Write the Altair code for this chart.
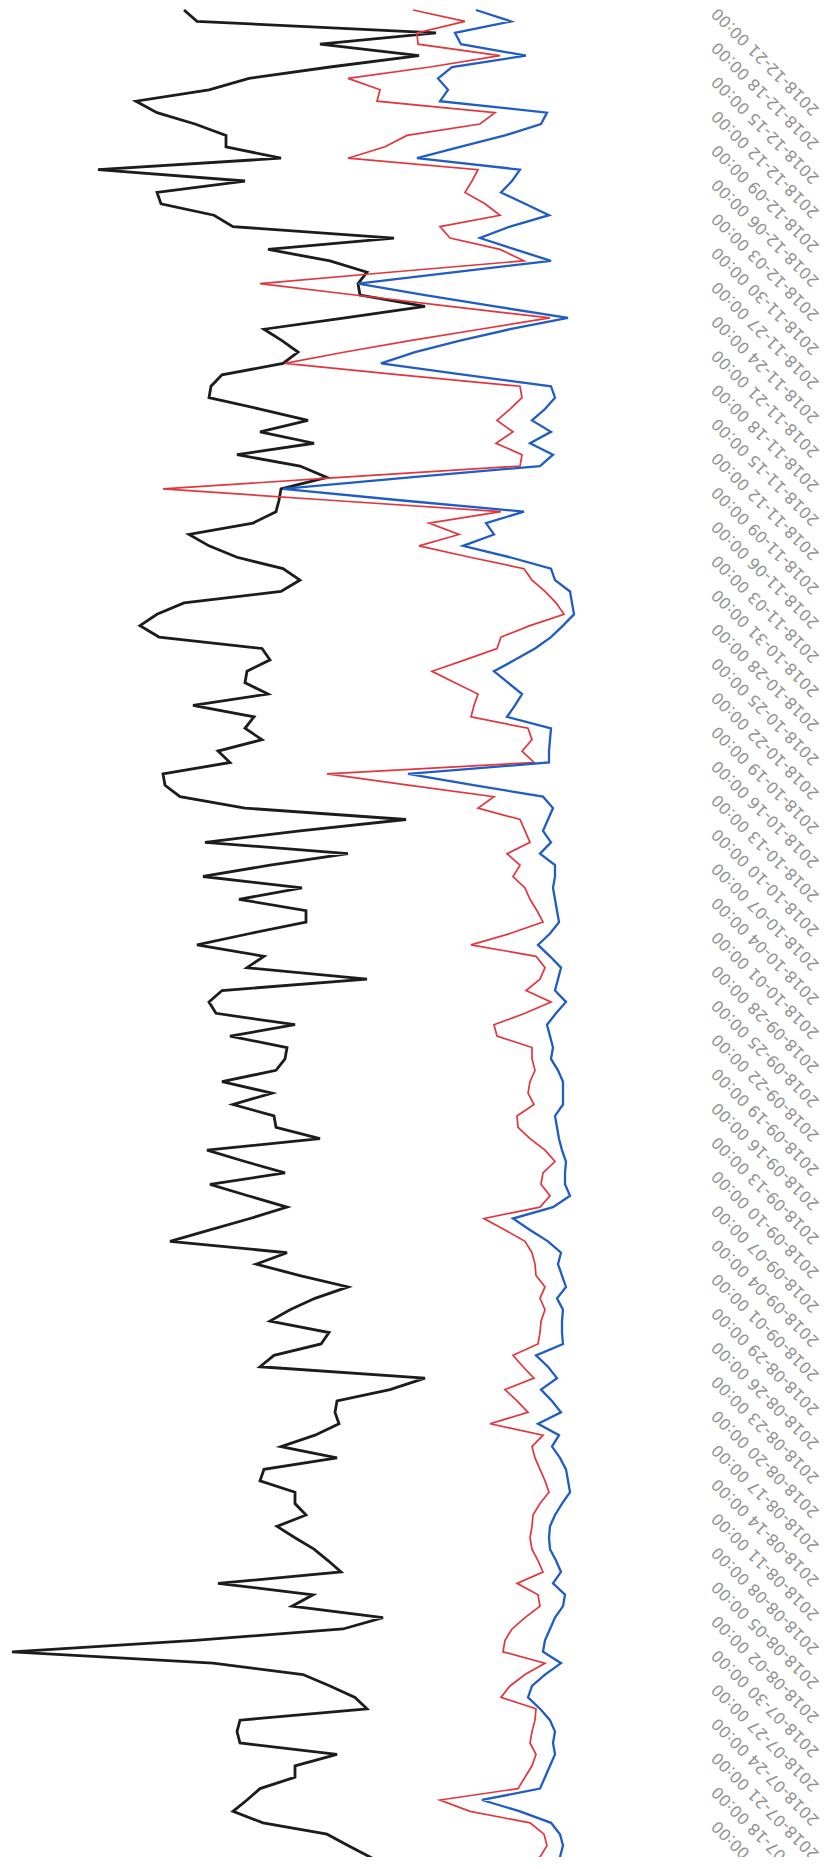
import altair as alt
import pandas as pd

# Daily values, newest first (2018-12-21 back to 2018-07-11)
black = [429, 416, 177, 293, 194, 283, 364, 404, 477, 456, 418, 387, 387, 332, 515, 368, 456, 452, 399, 380,
         219, 345, 283, 246, 255, 253, 188, 268, 349, 331, 315, 330, 391, 402, 404, 353, 305, 353, 299, 376,
         313, 286, 332, 334, 337, 360, 424, 404, 376, 330, 313, 332, 429, 456, 473, 454, 351, 343, 366, 368,
         345, 420, 359, 368, 351, 395, 383, 450, 448, 433, 368, 207, 313, 408, 265, 343, 410, 311, 374, 307,
         307, 363, 416, 349, 366, 246, 391, 404, 397, 318, 383, 326, 328, 337, 391, 341, 380, 339, 337, 293,
         406, 368, 328, 403, 365, 326, 363, 403, 443, 326, 357, 313, 265, 298, 323, 343, 284, 292, 339, 353,
         188, 223, 276, 278, 274, 298, 332, 276, 349, 353, 318, 318, 307, 336, 318, 299, 285, 272, 395, 300,
         321, 230, 270, 418, 601, 400, 310, 283, 258, 246, 373, 376, 373, 276, 318, 318, 353, 366, 380, 350,
         286, 265, 243, 323]
red = [200, 148, 196, 195, 113, 183, 265, 233, 236, 118, 133, 206, 228, 265, 135, 141, 148, 128, 113, 173,
       163, 113, 89, 223, 353, 258, 163, 63, 133, 203, 268, 328, 213, 93, 91, 103, 116, 100, 117, 91,
       93, 273, 450, 283, 112, 184, 154, 194, 143, 89, 81, 68, 57, 49, 83, 112, 116, 148, 181, 158,
       135, 139, 142, 85, 81, 91, 79, 286, 203, 119, 135, 93, 88, 83, 106, 93, 100, 88, 83, 76,
       70, 103, 142, 77, 68, 73, 87, 62, 88, 119, 116, 81, 81, 78, 83, 85, 79, 96, 95, 83,
       68, 58, 70, 72, 63, 73, 129, 108, 88, 81, 78, 77, 68, 73, 68, 72, 73, 75, 100, 90,
       79, 108, 96, 85, 123, 70, 81, 78, 73, 68, 64, 73, 80, 81, 83, 81, 75, 70, 96, 75,
       73, 88, 101, 108, 110, 68, 88, 103, 112, 77, 78, 81, 83, 77, 81, 88, 95, 173, 143, 83,
       69, 66, 73, 88]
blue = [137, 102, 158, 152, 87, 161, 175, 165, 173, 66, 72, 108, 153, 196, 93, 101, 112, 88, 64, 103,
        133, 98, 62, 158, 255, 188, 118, 45, 103, 153, 198, 232, 148, 62, 58, 68, 81, 62, 83, 60,
        73, 203, 330, 213, 89, 127, 119, 150, 103, 62, 58, 43, 41, 39, 50, 62, 78, 98, 119, 105,
        91, 98, 106, 62, 63, 64, 64, 205, 138, 70, 60, 65, 70, 62, 73, 58, 58, 60, 58, 56,
        54, 63, 75, 63, 52, 55, 58, 47, 57, 66, 63, 60, 62, 55, 50, 50, 50, 58, 56, 54,
        51, 47, 48, 48, 43, 60, 100, 83, 65, 52, 55, 51, 47, 56, 50, 51, 51, 50, 77, 65,
        56, 72, 61, 52, 75, 54, 61, 53, 47, 45, 43, 51, 58, 63, 64, 63, 57, 52, 60, 48,
        50, 58, 63, 68, 70, 52, 68, 81, 85, 73, 63, 58, 60, 58, 63, 68, 73, 131, 93, 62,
        53, 50, 53, 56]

LAST_DAY = "2018-12-21"
FIRST_TICK = "2018-07-15"
DOMAIN_START = "2018-07-12"

n = len(black)
dates = pd.date_range(end=LAST_DAY, periods=n, freq="D")[::-1]
df = pd.DataFrame({
    "date": [d.strftime("%Y-%m-%d") for d in dates],
    "idx": list(range(n)),
    "black": black,
    "red": red,
    "blue": blue,
})


def utc_ms(d):
    return int(pd.Timestamp(d, tz="UTC").value // 10**6)


tick_dates = pd.date_range(FIRST_TICK, LAST_DAY, freq="3D")
tick_ms = [utc_ms(d) for d in tick_dates]
dom = [utc_ms(DOMAIN_START), utc_ms(LAST_DAY)]

xscale = alt.Scale(domain=[0, 600], reverse=True, nice=False, zero=False)
yscale = alt.Scale(type="utc", domain=dom, nice=False)

yaxis = alt.Axis(
    orient="right", offset=99, domain=False, ticks=False, grid=False, title=None,
    values=tick_ms, labelExpr="utcFormat(datum.value, '%Y-%m-%d %H:%M')",
    labelAngle=225, labelAlign="right", labelBaseline="middle", labelPadding=2,
    labelFont="DejaVu Sans", labelFontSize=16, labelColor="#939393",
    labelOverlap=False, labelFlush=False, labelBound=False,
)


def layer(field, color, width):
    return alt.Chart(df).mark_line(color=color, strokeWidth=width, strokeJoin="miter").encode(
        x=alt.X(f"{field}:Q", scale=xscale, axis=None),
        y=alt.Y("date:T", scale=yscale, axis=yaxis),
        order=alt.Order("idx:Q"),
    )


chart = alt.layer(
    layer("black", "#1c1c1c", 2.8),
    layer("red", "#e2353c", 1.7),
    layer("blue", "#1f5cc4", 2.3),
).properties(
    width=600, height=1847,
    autosize=alt.AutoSizeParams(type="none"),
    padding={"left": 5, "top": 2, "right": 216, "bottom": 0},
).configure(background="white").configure_view(stroke=None)

chart.save("out.html", embed_options={"renderer": "svg", "actions": False})
